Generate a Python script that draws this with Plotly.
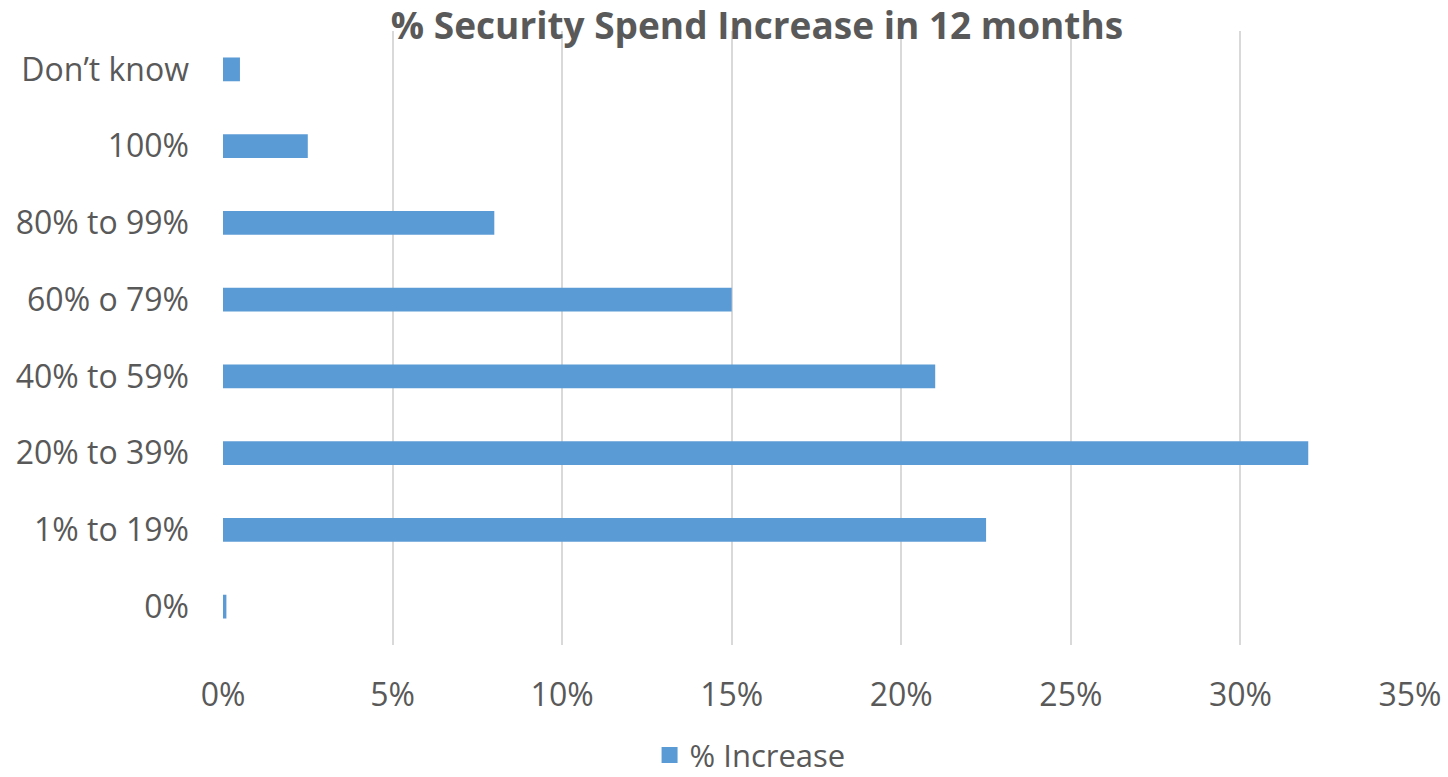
import plotly.graph_objects as go

categories = ["0%", "1% to 19%", "20% to 39%", "40% to 59%", "60% o 79%", "80% to 99%", "100%", "Don\u2019t know"]
values = [0.001, 0.225, 0.32, 0.21, 0.15, 0.08, 0.025, 0.005]
x_ticks = [0, 0.05, 0.10, 0.15, 0.20, 0.25, 0.30, 0.35]
x_tick_labels = ["0%", "5%", "10%", "15%", "20%", "25%", "30%", "35%"]

TEXT = "#595959"
BAR = "#5B9BD5"
FONT = "Open Sans"

fig = go.Figure()
fig.add_trace(go.Bar(
    y=categories, x=values, orientation="h", name="% Increase",
    marker=dict(color=BAR, line=dict(width=0)), showlegend=False,
))
# legend entry
fig.add_trace(go.Scatter(
    x=[None], y=[None], mode="markers", name="% Increase",
    marker=dict(symbol="square", size=20, color=BAR), showlegend=True,
))

fig.update_layout(
    width=1448, height=777,
    margin=dict(l=223, r=38, t=31, b=132, autoexpand=False),
    paper_bgcolor="white", plot_bgcolor="white",
    bargap=0.69,
    title=dict(text="<b>% Security Spend Increase in 12 months</b>",
               x=0.5228, xanchor="center", y=0.966, yanchor="middle",
               font=dict(family=FONT, size=37, color=TEXT)),
    font=dict(family=FONT, color=TEXT),
    showlegend=True,
    legend=dict(orientation="h", xref="container", yref="container",
                x=0.518, xanchor="center", y=0.028, yanchor="middle",
                itemsizing="trace",
                font=dict(family=FONT, size=31, color=TEXT)),
    xaxis=dict(range=[0, 0.35], tickvals=x_ticks, ticktext=x_tick_labels,
               showgrid=True, gridcolor="#D9D9D9", gridwidth=1.5,
               zeroline=False, showline=False, ticks="", automargin=False,
               ticklabeloverflow="allow",
               tickfont=dict(family=FONT, size=32, color=TEXT),
               ticklabelstandoff=28, fixedrange=True),
    yaxis=dict(categoryorder="array", categoryarray=categories,
               showgrid=False, zeroline=False, showline=False, ticks="", automargin=False,
               tickfont=dict(family=FONT, size=32, color=TEXT),
               ticklabelstandoff=33, fixedrange=True),
)

fig.write_html("out.html", config={"displayModeBar": False},
               post_script="document.body.style.margin='0';document.body.style.overflow='hidden';")
